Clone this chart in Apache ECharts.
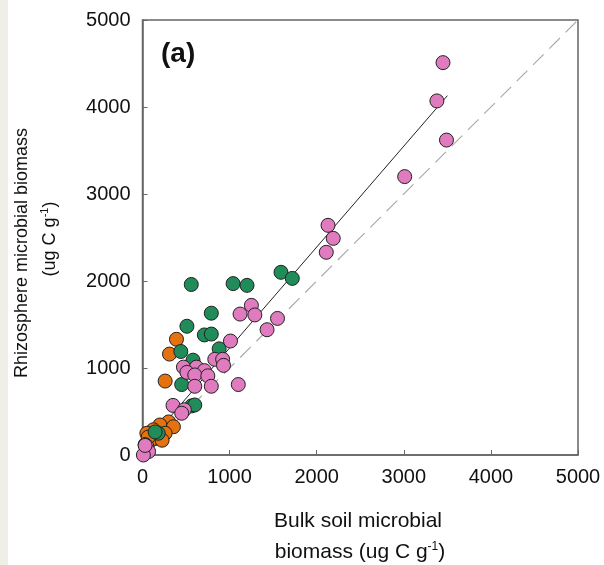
<!DOCTYPE html>
<html>
<head>
<meta charset="utf-8">
<script src="https://cdn.jsdelivr.net/npm/echarts@6/dist/echarts.min.js"></script>
<style>
  html, body { margin: 0; padding: 0; background: #fff; }
  #main { width: 604px; height: 565px; }
</style>
</head>
<body>
<div id="main"></div>
<script>
// bulk soil vs rhizosphere microbial biomass, [bulk, rhizosphere]
var orangePts = [[390,1330],[310,1160],[260,850],[300,380],[200,345],[125,290],[50,250],[355,325],
  [165,230],[260,250],[145,190],[85,160],[225,170],[65,205],[30,120]];
var greenPts = [[560,1960],[1040,1970],[1200,1950],[1590,2100],[1720,2030],[790,1630],[510,1480],
  [710,1380],[790,1390],[440,1190],[580,1090],[880,1220],[450,810],[565,565],[600,575],[180,250],[145,265]];
var pinkPts = [[3450,4510],[3380,4070],[3490,3620],[3010,3200],[2130,2640],[2190,2490],[2110,2330],
  [1250,1720],[1120,1620],[1290,1610],[1550,1570],[1430,1440],[1010,1310],[1100,810],[830,1100],
  [920,1100],[930,1030],[470,1010],[620,1010],[710,970],[510,950],[600,920],[750,910],[600,790],
  [790,790],[350,570],[480,520],[450,480],[50,100],[70,40],[10,0],[30,110]];
var fitLine = [[10,82],[3500,4130]];   // regression
var oneToOne = [[0,0],[5000,5000]];
var axisTicks = [0,1000,2000,3000,4000,5000];

var font = "'Liberation Sans', Arial, sans-serif";
var chart = echarts.init(document.getElementById('main'));

function pts(name, data, color){
  return {
    name: name, type: 'scatter', data: data, symbol: 'circle', symbolSize: 14, z: 3,
    itemStyle: { color: color, borderColor: '#222', borderWidth: 1, opacity: 1 }
  };
}

var axisCommon = {
  min: axisTicks[0], max: axisTicks[axisTicks.length-1], interval: 1000,
  axisLine: { show: true, lineStyle: { color: '#666', width: 1.5 } },
  axisTick: { show: true, inside: true, length: 5, lineStyle: { color: '#666' } },
  axisLabel: { color: '#111', fontSize: 20, fontFamily: font, margin: 12,
    formatter: function(v){ return String(v); } },
  splitLine: { show: false }
};

var supRich = { n: { fontSize: 21, fontFamily: font }, s: { fontSize: 12, fontFamily: font, padding: [0, 0, 11, 0] } };
var supRichY = { n: { fontSize: 18, fontFamily: font }, s: { fontSize: 11, fontFamily: font, padding: [0, 0, 10, 0] } };

chart.setOption({
  animation: false,
  backgroundColor: '#fff',
  grid: { left: 142.5, right: 26, top: 20, bottom: 110, show: true, borderColor: '#666', borderWidth: 1.5 },
  xAxis: Object.assign({ type: 'value' }, axisCommon),
  yAxis: Object.assign({ type: 'value' }, axisCommon),
  series: [
    { type: 'line', data: oneToOne, symbol: 'none', z: 1,
      lineStyle: { color: '#aaa', width: 1.2, type: [15, 8] } },
    { type: 'line', data: fitLine, symbol: 'none', z: 2,
      lineStyle: { color: '#222', width: 1 } },
    pts('orange', orangePts, '#e3720f'),
    pts('green', greenPts, '#1f8c5a'),
    pts('pink', pinkPts, '#e07bbf')
  ],
  graphic: [
    { type: 'rect', left: 0, top: 0, shape: { width: 8, height: 565 }, style: { fill: '#efeee7' } },
    { type: 'text', x: 161, y: 40, style: { text: '(a)', fontSize: 28, fontWeight: 'bold', fontFamily: font, fill: '#111' } },
    { type: 'text', x: 358, y: 521, style: { text: 'Bulk soil microbial', fontSize: 21, fontFamily: font,
        fill: '#111', align: 'center', verticalAlign: 'middle' } },
    { type: 'text', x: 360, y: 552, style: { text: '{n|biomass (ug C g}{s|-1}{n|)}', fontFamily: font,
        fill: '#111', align: 'center', verticalAlign: 'middle', rich: supRich } },
    { type: 'text', x: 22, y: 253, rotation: Math.PI / 2, style: { text: 'Rhizosphere microbial biomass',
        fontSize: 18, fontFamily: font, fill: '#111', align: 'center', verticalAlign: 'middle' } },
    { type: 'text', x: 50, y: 239, rotation: Math.PI / 2, style: { text: '{n|(ug C g}{s|-1}{n|)}', fontFamily: font,
        fill: '#111', align: 'center', verticalAlign: 'middle', rich: supRichY } }
  ]
});
</script>
</body>
</html>
